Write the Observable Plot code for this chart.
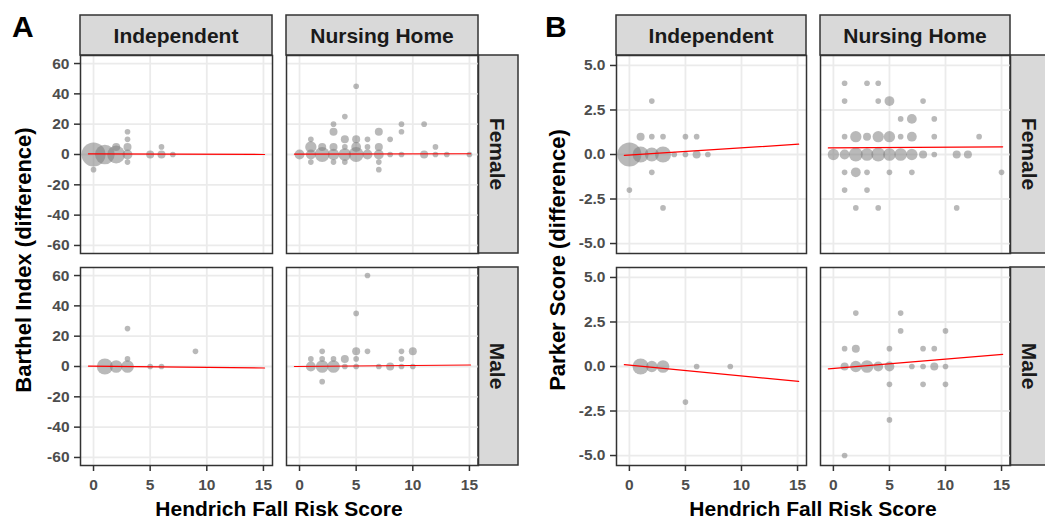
<!DOCTYPE html>
<html><head><meta charset="utf-8">
<script src="https://cdn.jsdelivr.net/npm/d3@7"></script>
<script src="https://cdn.jsdelivr.net/npm/@observablehq/plot@0.6"></script>
<style>
body{margin:0;background:#fff;}
#root{position:relative;width:1045px;height:520px;overflow:hidden;font-family:"Liberation Sans",Arial,sans-serif;}
.pan{position:absolute;}
</style></head><body><div id="root"></div>
<script>
// ---------------- data ----------------
const residence = ["Independent", "Nursing Home"];
const sexes = ["Female", "Male"];
const xTitle = "Hendrich Fall Risk Score";
const xTicks = [0, 5, 10, 15];
const xTickLabels = ["0", "5", "10", "15"];
const barthelTitle = "Barthel Index (difference)";
const barthelTicks = [-60, -40, -20, 0, 20, 40, 60];
const barthelTickLabels = ["-60", "-40", "-20", "0", "20", "40", "60"];
const parkerTitle = "Parker Score (difference)";
const parkerTicks = [-5, -2.5, 0, 2.5, 5];
const parkerTickLabels = ["-5.0", "-2.5", "0.0", "2.5", "5.0"];

// points: [score, difference, count]
const barthelIndFemale = [[0,0,18],[0,-10,1],[1,0,12],[2,0,10],[2,5,2],[3,15,1],[3,10,1],[3,5,2],[3,0,3],[3,-5,1],[5,0,2],[6,5,1],[6,0,2],[7,0,1]];
const barthelNHFemale = [[0,0,3],[1,0,3],[1,5,4],[1,10,1],[1,-5,1],[2,0,7],[2,5,2],
  [3,0,4],[3,5,2],[3,15,2],[3,20,1],[3,-5,1],[4,0,5],[4,5,1],[4,10,2],[4,25,1],[4,-5,1],
  [5,0,7],[5,5,3],[5,10,2],[5,45,1],[6,0,3],[6,5,1],[6,10,1],[7,0,3],[7,5,2],[7,15,2],[7,-5,1],[7,-10,1],
  [8,0,1],[8,10,1],[9,0,1],[9,15,1],[9,20,1],[11,0,2],[11,20,1],[12,0,1],[12,5,1],[13,0,1],[15,0,1]];
const barthelIndMale = [[1,0,8],[2,0,5],[3,0,5],[3,5,1],[3,25,1],[5,0,1],[6,0,1],[9,10,1]];
const barthelNHMale = [[1,0,3],[1,5,1],[2,0,5],[2,5,1],[2,10,1],[2,-10,1],[3,0,5],[3,5,1],[4,0,1],[4,5,2],
  [5,0,1],[5,5,1],[5,10,2],[5,35,1],[6,10,1],[6,60,1],[7,0,1],[8,0,2],[9,0,1],[9,5,1],[9,10,1],[10,0,1],[10,10,2]];

const parkerIndFemale = [[0,0,18],[0,-2,1],[1,0,8],[1,1,2],[2,0,6],[2,1,1],[2,3,1],[2,-1,1],[3,0,8],[3,1,1],[3,-3,1],
  [4,0,1],[5,0,1],[5,1,1],[6,0,2],[6,1,1],[7,0,1]];
const parkerNHFemale = [[0,0,4],[1,0,3],[1,1,1],[1,3,1],[1,4,1],[1,-1,1],[1,-2,1],[2,0,6],[2,1,4],[2,-1,3],[2,-3,1],
  [3,0,5],[3,1,2],[3,4,1],[3,-1,1],[3,-2,1],[4,0,6],[4,1,4],[4,3,1],[4,4,1],[4,-3,1],[5,0,5],[5,1,4],[5,3,3],[5,-1,1],
  [6,0,5],[6,1,1],[6,2,1],[7,0,4],[7,1,3],[7,2,3],[7,-1,1],[8,0,2],[8,3,1],[9,0,1],[9,1,1],[9,2,1],
  [11,0,2],[11,-3,1],[12,0,2],[13,1,1],[15,-1,1]];
const parkerIndMale = [[1,0,8],[2,0,4],[3,0,5],[5,-2,1],[6,0,1],[9,0,1]];
const parkerNHMale = [[1,0,2],[1,1,1],[1,-5,1],[2,0,4],[2,1,2],[2,3,1],[3,0,5],[4,0,3],[5,0,3],[5,1,1],[5,-1,1],[5,-3,1],
  [6,2,1],[6,3,1],[7,0,1],[8,0,1],[8,1,1],[8,-1,1],[9,0,2],[9,1,1],[10,0,1],[10,2,1],[10,-1,1]];

// fitted regression lines: y at the two x ends
const fitX = [-0.45, 15.1];
const barthelFitIndFemale = [0.4, 0.0];
const barthelFitNHFemale = [0.3, 0.5];
const barthelFitIndMale = [0.3, -1.0];
const barthelFitNHMale = [0.0, 1.0];
const parkerFitIndFemale = [-0.05, 0.58];
const parkerFitNHFemale = [0.37, 0.43];
const parkerFitIndMale = [0.1, -0.84];
const parkerFitNHMale = [-0.13, 0.68];

// ---------------- layout ----------------
const FONT = '"Liberation Sans", Arial, sans-serif';
const root = document.getElementById("root");
const W = 1045, H = 520;
const overlay = d3.select(root).append("svg").attr("width", W).attr("height", H)
  .style("position", "absolute").style("left", 0).style("top", 0).style("font-family", FONT);

const figs = [
  {tag: "A", tagX: 12, colX: [80, 286], colW: 192, title: barthelTitle, titleX: 31,
   ydom: [-65.3, 65.3], yticks: barthelTicks, ylabels: barthelTickLabels,
   pts: [[barthelIndFemale, barthelNHFemale], [barthelIndMale, barthelNHMale]],
   fits: [[barthelFitIndFemale, barthelFitNHFemale], [barthelFitIndMale, barthelFitNHMale]]},
  {tag: "B", tagX: 545, colX: [616, 820], colW: 190, title: parkerTitle, titleX: 565,
   ydom: [-5.56, 5.56], yticks: parkerTicks, ylabels: parkerTickLabels,
   pts: [[parkerIndFemale, parkerNHFemale], [parkerIndMale, parkerNHMale]],
   fits: [[parkerFitIndFemale, parkerFitNHFemale], [parkerFitIndMale, parkerFitNHMale]]}
];
const rowY = [55, 267], rowH = 198, stripTop = 15, stripH = 40, stripW = 40;
const xdom = [-1.15, 15.8];

function panel(pts, fit, fig, showY, showX, w) {
  const ml = showY ? 50 : 0, mb = showX ? 36 : 0;
  const data = pts.map(([x, y, n]) => ({x, y, n}));
  const line = fitX.map((x, i) => ({x, y: fit[i]}));
  const marks = [
    Plot.gridX(xTicks, {stroke: "#EBEBEB", strokeOpacity: 1, strokeWidth: 1.8}),
    Plot.gridY(fig.yticks, {stroke: "#EBEBEB", strokeOpacity: 1, strokeWidth: 1.8}),
    Plot.dot(data, {x: "x", y: "y", r: "n", fill: "#808080", fillOpacity: 0.55, stroke: null}),
    Plot.line(line, {x: "x", y: "y", stroke: "red", strokeWidth: 1.2}),
    Plot.frame({stroke: "#333", strokeWidth: 1.5})
  ];
  if (showY) marks.push(Plot.axisY(fig.yticks, {tickSize: 6, tickPadding: 5, label: null,
    tickFormat: d => fig.ylabels[fig.yticks.indexOf(d)], fontSize: 15.5, fontWeight: "bold",
    fill: "#4D4D4D", stroke: "#333", strokeWidth: 1.5}));
  if (showX) marks.push(Plot.axisX(xTicks, {tickSize: 6, tickPadding: 7, label: null,
    tickFormat: d => xTickLabels[xTicks.indexOf(d)], fontSize: 15.5, fontWeight: "bold",
    fill: "#4D4D4D", stroke: "#333", strokeWidth: 1.5}));
  return {ml, el: Plot.plot({
    width: w + ml, height: rowH + mb, marginLeft: ml, marginRight: 0, marginTop: 0, marginBottom: mb,
    x: {domain: xdom, axis: showX ? undefined : null},
    y: {domain: fig.ydom, axis: showY ? undefined : null},
    r: {type: "sqrt", domain: [0, 18], range: [0, 12]},
    style: {background: "transparent", fontFamily: FONT, overflow: "visible"},
    marks
  })};
}

for (const fig of figs) {
  overlay.append("text").attr("x", fig.tagX).attr("y", 37).attr("font-size", 30).attr("font-weight", "bold")
    .attr("fill", "#000").text(fig.tag);
  residence.forEach((r, c) => {
    overlay.append("rect").attr("x", fig.colX[c]).attr("y", stripTop).attr("width", fig.colW).attr("height", stripH)
      .attr("fill", "#D9D9D9").attr("stroke", "#333").attr("stroke-width", 1.5);
    overlay.append("text").attr("x", fig.colX[c] + fig.colW / 2).attr("y", stripTop + stripH / 2 + 7.5)
      .attr("text-anchor", "middle").attr("font-size", 21).attr("font-weight", "bold").attr("fill", "#1A1A1A").text(r);
  });
  const rx = fig.colX[1] + fig.colW;
  sexes.forEach((s, r) => {
    overlay.append("rect").attr("x", rx).attr("y", rowY[r]).attr("width", stripW).attr("height", rowH)
      .attr("fill", "#D9D9D9").attr("stroke", "#333").attr("stroke-width", 1.5);
    overlay.append("text").attr("transform", `translate(${rx + stripW / 2},${rowY[r] + rowH / 2}) rotate(90)`)
      .attr("dy", "0.36em").attr("text-anchor", "middle").attr("font-size", 21).attr("font-weight", "bold")
      .attr("fill", "#1A1A1A").text(s);
  });
  const cx = (fig.colX[0] + fig.colX[1] + fig.colW) / 2;
  overlay.append("text").attr("x", cx).attr("y", 516).attr("text-anchor", "middle").attr("font-size", 21)
    .attr("font-weight", "bold").attr("fill", "#000").text(xTitle);
  overlay.append("text").attr("transform", `translate(${fig.titleX},${(rowY[0] + rowY[1] + rowH) / 2}) rotate(-90)`)
    .attr("text-anchor", "middle").attr("font-size", 22).attr("font-weight", "bold").attr("fill", "#000").text(fig.title);
  for (let r = 0; r < 2; r++) for (let c = 0; c < 2; c++) {
    const {ml, el} = panel(fig.pts[r][c], fig.fits[r][c], fig, c === 0, r === 1, fig.colW);
    const div = document.createElement("div");
    div.className = "pan";
    div.style.left = (fig.colX[c] - ml) + "px";
    div.style.top = rowY[r] + "px";
    div.appendChild(el);
    root.appendChild(div);
  }
}
</script></body></html>
